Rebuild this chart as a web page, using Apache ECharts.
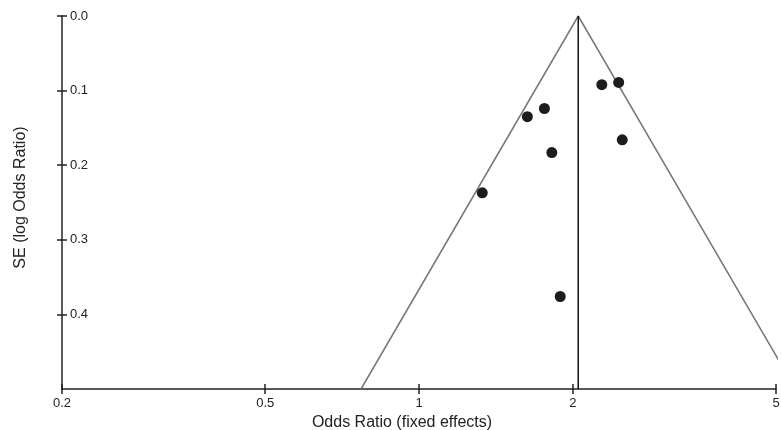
<!DOCTYPE html>
<html>
<head>
<meta charset="utf-8">
<script src="https://cdn.jsdelivr.net/npm/echarts@6/dist/echarts.min.js"></script>
<style>
  html, body { margin: 0; padding: 0; background: #fff; }
  #main { width: 781px; height: 430px; }
</style>
</head>
<body>
<div id="main"></div>
<script>
// study estimates: odds ratio and SE of log odds ratio
var oddsRatios = [2.28, 2.46, 1.76, 1.63, 1.82, 2.50, 1.33, 1.89];
var standardErrors = [0.092, 0.089, 0.124, 0.135, 0.183, 0.166, 0.237, 0.376];

// pooled (fixed effects) estimate and funnel limits
var pooledOR = 2.05;
var funnelOR = [0.77, 2.05, 5.46];
var funnelSE = [0.5, 0, 0.5];

var xTicks = [0.2, 0.5, 1, 2, 5];
var yTicks = [0, 0.1, 0.2, 0.3, 0.4];

var points = oddsRatios.map(function (v, i) { return [v, standardErrors[i]]; });
var funnel = funnelOR.map(function (v, i) { return [v, funnelSE[i]]; });

var font = 'Liberation Sans, Arial, sans-serif';
var axisColor = '#222';

var myChart = echarts.init(document.getElementById('main'));

var baseX = {
  type: 'log',
  logBase: 10,
  min: 0.2,
  max: 5,
  position: 'bottom',
  splitLine: { show: false },
  axisLine: { show: true, onZero: false, lineStyle: { color: axisColor, width: 1.5 } }
};
var baseY = {
  type: 'value',
  inverse: true,
  min: 0,
  max: 0.5,
  interval: 0.1,
  position: 'left',
  splitLine: { show: false },
  axisLine: { show: true, onZero: false, lineStyle: { color: axisColor, width: 1.5 } }
};

myChart.setOption({
  animation: false,
  grid: { left: 62, right: 5, top: 16, bottom: 41, containLabel: false, outerBoundsMode: 'none' },
  xAxis: [
    Object.assign({}, baseX, {
      name: 'Odds Ratio (fixed effects)',
      nameLocation: 'middle',
      nameGap: 25,
      nameTextStyle: { fontFamily: font, fontSize: 16, color: axisColor, padding: [0, 34, 0, 0] },
      axisTick: { show: false },
      axisLabel: {
        fontFamily: font, fontSize: 13, color: axisColor, margin: 8,
        customValues: xTicks,
        formatter: function (v) { return String(v); }
      }
    }),
    // crossing tick marks: shifted up by 5, ticks 10 long
    Object.assign({}, baseX, {
      offset: -5,
      axisLine: { show: false, onZero: false },
      axisTick: { show: true, length: 10, lineStyle: { color: axisColor, width: 1.5 }, customValues: xTicks },
      axisLabel: { show: false }
    })
  ],
  yAxis: [
    Object.assign({}, baseY, {
      name: 'SE (log Odds Ratio)',
      nameLocation: 'middle',
      nameGap: 33,
      nameTextStyle: { fontFamily: font, fontSize: 16, color: axisColor, padding: [0, 0, 0, 10] },
      axisTick: { show: false },
      axisLabel: {
        inside: true, margin: 8,
        fontFamily: font, fontSize: 13, color: axisColor,
        customValues: yTicks,
        formatter: function (v) { return v.toFixed(1); }
      }
    }),
    Object.assign({}, baseY, {
      offset: -5,
      axisLine: { show: false, onZero: false },
      axisTick: { show: true, length: 10, lineStyle: { color: axisColor, width: 1.5 }, customValues: yTicks },
      axisLabel: { show: false }
    })
  ],
  series: [
    {
      type: 'line',
      data: funnel,
      clip: true,
      symbol: 'none',
      lineStyle: { color: '#777', width: 1.5 },
      z: 2
    },
    {
      type: 'line',
      data: [[pooledOR, 0], [pooledOR, 0.5]],
      symbol: 'none',
      lineStyle: { color: '#111', width: 1.5 },
      z: 3
    },
    {
      type: 'scatter',
      data: points,
      symbolSize: 11,
      itemStyle: { color: '#1c1c1c', opacity: 1 },
      z: 4
    }
  ]
});
</script>
</body>
</html>
